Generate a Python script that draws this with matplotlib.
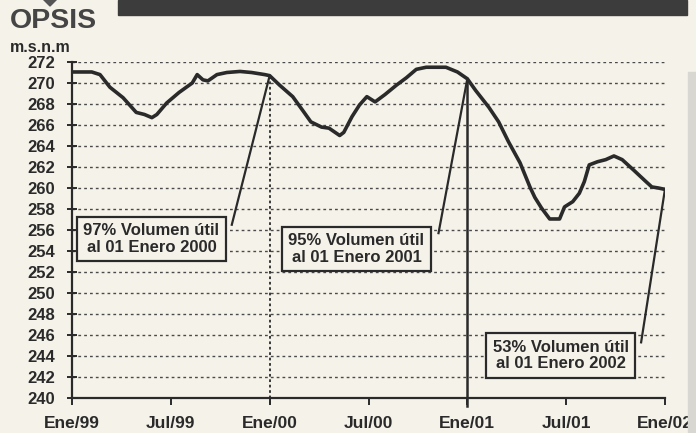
import matplotlib
matplotlib.use("Agg")
import matplotlib.pyplot as plt
from matplotlib.patches import Rectangle, Polygon

# nivel del embalse (m.s.n.m), meses desde Ene/99
months = [0, 1.2, 1.7, 2.3, 3.1, 3.9, 4.4, 4.85, 5.15, 5.75, 6.5, 7.3, 7.6, 7.95,
          8.25, 8.8, 9.4, 10.2, 10.9, 11.7, 12.0, 12.6, 13.4, 14.0, 14.5, 15.15,
          15.6, 16.25, 16.5, 17.0, 17.45, 17.9, 18.4, 19.0, 19.7, 20.3, 20.9,
          21.5, 22.7, 23.4, 24.0, 24.5, 25.3, 25.9, 26.5, 27.2, 27.8, 28.1,
          28.5, 29.0, 29.6, 29.9, 30.4, 30.8, 31.1, 31.4, 31.9, 32.4, 32.9,
          33.4, 34.1, 34.85, 35.2, 35.6, 35.9]
level = [271.05, 271.05, 270.8, 269.6, 268.6, 267.2, 267.0, 266.7, 267.0, 268.1,
         269.1, 270.0, 270.8, 270.3, 270.2, 270.8, 271.0, 271.1, 271.0, 270.8,
         270.7, 269.8, 268.7, 267.4, 266.3, 265.8, 265.7, 265.0, 265.3, 266.8,
         267.9, 268.7, 268.2, 268.9, 269.8, 270.5, 271.3, 271.5, 271.5, 271.05,
         270.4, 269.3, 267.7, 266.3, 264.4, 262.4, 260.1, 259.1, 258.1, 257.05,
         257.05, 258.2, 258.7, 259.5, 260.6, 262.2, 262.5, 262.7, 263.05, 262.7,
         261.7, 260.6, 260.1, 260.0, 259.9]

tick_pos = [0, 6, 12, 18, 24, 30, 36]
tick_labels = ["Ene/99", "Jul/99", "Ene/00", "Jul/00", "Ene/01", "Jul/01", "Ene/02"]
y_ticks = list(range(240, 273, 2))

notes = ["97% Volumen útil\nal 01 Enero 2000",
         "95% Volumen útil\nal 01 Enero 2001",
         "53% Volumen útil\nal 01 Enero 2002"]
note_xy = [(4.82, 255.15), (17.27, 254.2), (29.67, 244.05)]
lead_from = [(12.0, 270.7), (24.0, 270.4), (36.0, 259.9)]
lead_to = [(9.7, 256.5), (22.25, 255.7), (34.55, 245.3)]

paper = "#f5f2e9"
ink = "#2a2a2a"
plt.rcParams["font.family"] = ["Liberation Sans", "DejaVu Sans"]
plt.rcParams["font.weight"] = "bold"

W, H = 696, 433
fig = plt.figure(figsize=(W / 100, H / 100), dpi=100, facecolor=paper)

def fx(x):
    return x / W

def fy(y):
    return 1 - y / H

# banner, logo, scan strip
fig.patches.append(Rectangle((fx(118), fy(15)), fx(687) - fx(118), fy(0) - fy(15),
                             transform=fig.transFigure, color="#3c3c3c", zorder=0))
fig.patches.append(Rectangle((fx(688), 0), 1 - fx(688), fy(72),
                             transform=fig.transFigure, color="#d9d7d2", zorder=0))
fig.patches.append(Polygon([(fx(50), fy(6)), (fx(58), fy(-2)), (fx(50), fy(-10)), (fx(42), fy(-2))],
                           closed=True, transform=fig.transFigure, color="#555555", zorder=0))
fig.text(fx(10), fy(21), "OPSIS", fontsize=20.5, fontweight="bold", color="#454545",
         ha="left", va="center")
fig.text(fx(10), fy(47), "m.s.n.m", fontsize=11.5, fontweight="bold", color=ink,
         ha="left", va="center")

ax = fig.add_axes([fx(72), fy(398), fx(665) - fx(72), fy(62) - fy(398)])
ax.set_facecolor(paper)

for v in y_ticks[1:]:
    ax.axhline(v, color="#4a4a4a", linestyle=(0, (2, 2.2)), linewidth=1.0, zorder=1)

ax.plot(months, level, color=ink, linewidth=2.6, solid_joinstyle="round", zorder=4)

# lineas verticales en Ene/00 (punteada) y Ene/01 (continua)
ax.plot([12, 12], [270.7, 239.2], color=ink, linestyle=(0, (1.5, 1.5)), linewidth=1.3,
        clip_on=False, zorder=3)
ax.plot([24, 24], [270.4, 239.2], color=ink, linewidth=1.8, clip_on=False, zorder=3)

for (x0, y0), (x1, y1) in zip(lead_from, lead_to):
    ax.plot([x0, x1], [y0, y1], color=ink, linewidth=1.6, zorder=3)

for txt, (x, y) in zip(notes, note_xy):
    ax.text(x, y, txt, fontsize=12, fontweight="bold", color=ink, ha="center",
            va="center", linespacing=1.12, zorder=5,
            bbox=dict(boxstyle="square,pad=0.4", facecolor=paper, edgecolor=ink,
                      linewidth=1.6))

ax.set_xlim(0, 36)
ax.set_ylim(240, 272)
ax.set_xticks(tick_pos)
ax.set_xticklabels(tick_labels)
ax.set_yticks(y_ticks)
for s in ["top", "right"]:
    ax.spines[s].set_visible(False)
for s in ["left", "bottom"]:
    ax.spines[s].set_linewidth(1.6)
    ax.spines[s].set_color(ink)
ax.tick_params(axis="y", direction="inout", length=7, width=1.4, color=ink,
               labelsize=12, labelcolor=ink, pad=9)
ax.tick_params(axis="x", direction="out", length=5, width=1.4, color=ink,
               labelsize=12.5, labelcolor=ink, pad=8)
for lab in ax.get_xticklabels() + ax.get_yticklabels():
    lab.set_fontweight("bold")

fig.savefig("out.png", dpi=100, facecolor=paper)
